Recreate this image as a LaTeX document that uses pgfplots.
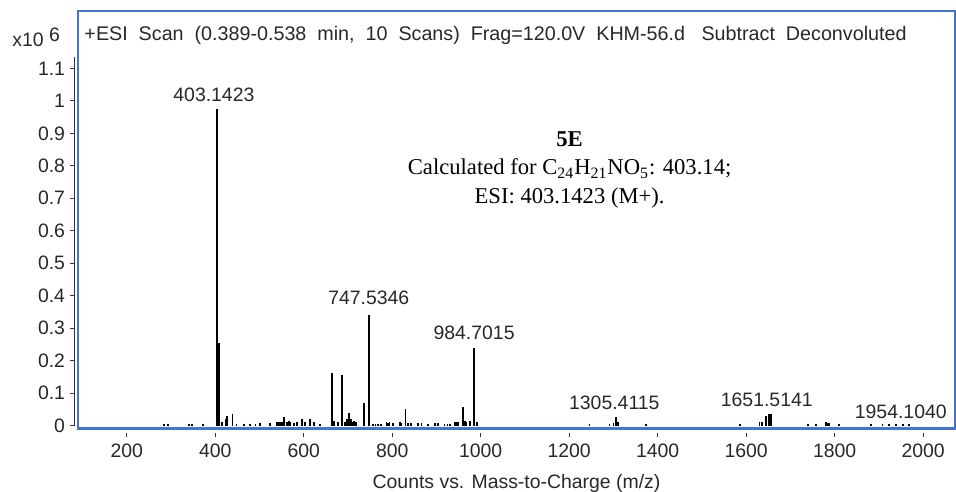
\documentclass[border=0pt]{standalone}
\usepackage{pgfplots}
\pgfplotsset{compat=1.18}
\usepackage{fontspec}
\setmainfont{Liberation Sans}
\newfontfamily\serif{Liberation Serif}
\definecolor{frameblue}{RGB}{66,116,208}
\definecolor{txt}{RGB}{40,40,40}
\begin{document}
\begin{tikzpicture}
\begin{axis}[name=ax, scale only axis, width=438pt, height=208.5pt,
  xmin=90, xmax=2072, ymin=-0.009, ymax=1.277,
  axis line style={frameblue, line width=1.1pt},
  xtick={200,400,600,800,1000,1200,1400,1600,1800,2000},
  xticklabels={200,400,600,800,1000,1200,1400,1600,1800,2000},
  ytick={0,0.1,0.2,0.3,0.4,0.5,0.6,0.7,0.8,0.9,1,1.1},
  yticklabels={0,0.1,0.2,0.3,0.4,0.5,0.6,0.7,0.8,0.9,1,1.1},
  tick align=outside, major tick length=2pt,
  xtick pos=bottom, ytick pos=left,
  every tick/.style={black!80, line width=0.5pt},
  xtick style={yshift=-2.5pt}, ytick style={xshift=-2pt},
  ticklabel style={font=\fontsize{9.7}{11}\selectfont, text=txt},
  xticklabel style={yshift=-2pt}, yticklabel style={xshift=-1pt},
  xlabel={Counts vs. Mass-to-Charge (m/z)},
  xlabel style={font=\fontsize{9.7}{11}\selectfont, text=txt, yshift=-1.5pt},
  clip=false,
]
\addplot[ycomb, black, line width=0.9pt, mark=none] coordinates {
(285,0.005)(294,0.004)(341,0.004)(347,0.005)(372,0.005)(403.14,0.975)(408,0.255)(416,0.01)(423,0.02)(426,0.03)(439,0.035)(448,0.006)(465,0.006)(478,0.006)(491,0.006)(502,0.008)(523,0.008)(539,0.01)(543,0.012)(547,0.01)(551,0.012)(556,0.025)(562,0.012)(566,0.015)(570,0.01)(578,0.008)(584,0.012)(597,0.02)(603,0.01)(614,0.02)(623,0.01)(636,0.006)(663.5,0.163)(669,0.015)(678,0.01)(687,0.156)(693,0.01)(698,0.02)(702.5,0.04)(706,0.02)(710,0.012)(714,0.015)(719,0.01)(736.5,0.068)(747.53,0.34)(756,0.006)(762,0.005)(768,0.006)(775,0.005)(787,0.01)(791,0.008)(794,0.01)(802,0.008)(817,0.01)(821,0.008)(830,0.052)(836,0.008)(843,0.008)(858,0.007)(866,0.007)(881,0.006)(896,0.007)(903,0.007)(918,0.006)(925,0.006)(930,0.006)(941,0.012)(945,0.01)(948,0.012)(960,0.056)(964,0.015)(968,0.012)(976,0.015)(984.70,0.24)(991,0.01)(1246,0.004)(1291,0.006)(1300,0.008)(1305.41,0.027)(1310,0.01)(1374,0.006)(1586,0.005)(1630,0.01)(1636,0.012)(1645,0.03)(1651.51,0.035)(1656,0.037)(1739,0.005)(1758,0.005)(1780,0.012)(1785,0.008)(1788,0.008)(1810,0.005)(1882,0.004)(1908,0.005)(1923,0.006)(1938,0.006)(1954.10,0.006)(1968,0.005)
};
\draw[black!80, line width=0.5pt] ([xshift=-2pt]rel axis cs:0,0.007) -- ([xshift=-2pt]rel axis cs:0,0.89);
\begin{scope}[every node/.style={font=\fontsize{9.7}{11}\selectfont, text=txt, inner sep=0pt}]
\node at (axis cs:397,1.018) {403.1423};
\node at (axis cs:747,0.392) {747.5346};
\node at (axis cs:985,0.287) {984.7015};
\node at (axis cs:1302,0.069) {1305.4115};
\node at (axis cs:1646.6,0.079) {1651.5141};
\node at (axis cs:1949.5,0.041) {1954.1040};
\node[anchor=west, font=\fontsize{9.85}{11}\selectfont] at ([shift={(3pt,-12pt)}]rel axis cs:0,1) {+ESI\ \ Scan\ \ (0.389-0.538\ \ min,\ \ 10\ \ Scans)\ \ Frag=120.0V\ \ KHM-56.d\ \ \ Subtract\ \ Deconvoluted};
\node[anchor=west] at ([shift={(-33pt,-13pt)}]rel axis cs:0,1) {x10\ \raisebox{2.5pt}{6}};
\end{scope}
\node[font=\serif\fontsize{11.3}{14.3}\selectfont, align=center, text=black, inner sep=0pt] at (axis cs:1201,0.788) {\textbf{5E}\\Calculated for C\textsubscript{24}H\textsubscript{21}NO\textsubscript{5}: 403.14;\\ESI: 403.1423 (M+).};
\end{axis}
\pgfresetboundingbox
\path ([shift={(-39pt,-31.5pt)}]ax.south west) rectangle ([shift={(0.5pt,5.5pt)}]ax.north east);
\end{tikzpicture}
\end{document}
